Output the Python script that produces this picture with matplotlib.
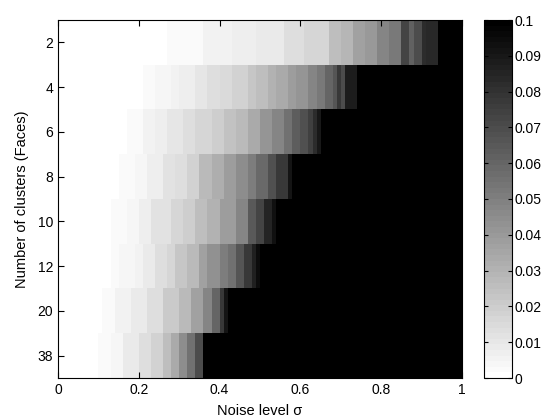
import numpy as np
import matplotlib
matplotlib.use("Agg")
import matplotlib.pyplot as plt

plt.rcParams['font.family'] = ['Liberation Sans', 'DejaVu Sans']

cluster_labels = ['2', '4', '6', '8', '10', '12', '20', '38']
xticks = [0, 0.2, 0.4, 0.6, 0.8, 1]
cbar_ticks = [0, 0.01, 0.02, 0.03, 0.04, 0.05, 0.06, 0.07, 0.08, 0.09, 0.1]

# Error per noise level (100 bins across sigma in [0,1]) for each cluster count
row_2 = ([0]*27 + [0.003]*9 + [0.005]*7 + [0.007]*6 + [0.009]*7 + [0.013]*5 +
         [0.017]*6 + [0.025]*3 + [0.029]*3 + [0.036]*3 + [0.040]*3 + [0.048]*3 +
         [0.053]*3 + [0.072]*2 + [0.062] + [0.070]*2 + [0.082] + [0.083]*3 + [0.1]*6)
row_4 = ([0]*21 + [0.002]*3 + [0.004]*4 + [0.005]*2 + [0.007]*4 + [0.010]*3 +
         [0.013]*3 + [0.015]*3 + [0.018]*4 + [0.023]*2 + [0.026]*3 + [0.030]*2 +
         [0.033]*3 + [0.038]*2 + [0.042]*3 + [0.048]*2 + [0.053]*2 + [0.060]*2 +
         [0.067] + [0.077] + [0.070] + [0.088]*3 + [0.1]*26)
row_6 = ([0]*17 + [0.003]*4 + [0.005]*3 + [0.007]*3 + [0.010]*4 + [0.013]*3 +
         [0.016]*4 + [0.020]*3 + [0.024]*3 + [0.028]*3 + [0.034]*3 + [0.042]*3 +
         [0.047]*3 + [0.055]*2 + [0.063]*2 + [0.068]*2 + [0.075] + [0.082] +
         [0.090] + [0.1]*35)
row_8 = ([0]*15 + [0.002]*4 + [0.004]*3 + [0.007]*4 + [0.011]*3 + [0.014]*3 +
         [0.018]*3 + [0.027]*3 + [0.032]*3 + [0.038]*3 + [0.045]*3 + [0.050]*2 +
         [0.058]*3 + [0.068]*2 + [0.078]*3 + [0.092] + [0.1]*42)
row_10 = ([0]*13 + [0.002]*4 + [0.004]*3 + [0.007]*3 + [0.011]*5 + [0.016]*3 +
          [0.020]*3 + [0.026]*3 + [0.031]*3 + [0.039]*4 + [0.047]*3 + [0.065]*2 +
          [0.072]*2 + [0.085]*2 + [0.093] + [0.1]*46)
row_12 = ([0]*13 + [0.002]*2 + [0.004]*4 + [0.006]*2 + [0.009]*3 + [0.013]*3 +
          [0.017]*2 + [0.022]*3 + [0.028]*3 + [0.036]*2 + [0.043]*3 + [0.050]*2 +
          [0.056]*2 + [0.067]*2 + [0.078]*2 + [0.087] + [0.094] + [0.1]*50)
row_20 = ([0]*11 + [0.002]*3 + [0.005]*4 + [0.008]*4 + [0.014]*4 + [0.021]*4 +
          [0.028]*3 + [0.037]*3 + [0.048]*2 + [0.060]*2 + [0.078] + [0.092] +
          [0.1]*58)
row_38 = ([0]*10 + [0.002]*3 + [0.004]*3 + [0.008]*4 + [0.013]*3 + [0.018]*3 +
          [0.026]*2 + [0.034]*2 + [0.045]*2 + [0.055]*2 + [0.070]*2 + [0.1]*64)

data = np.array([row_2, row_4, row_6, row_8, row_10, row_12, row_20, row_38])

fig = plt.figure(figsize=(5.6, 4.2), dpi=100)
ax = fig.add_axes([58/560, 42/420, 404/560, 358/420])
cax = fig.add_axes([484/560, 42/420, 28/560, 358/420])

cmap = plt.get_cmap('gray_r', 64)
im = ax.imshow(data, extent=[0, 1, len(cluster_labels) + 0.5, 0.5], aspect='auto',
               cmap=cmap, vmin=0, vmax=0.1, interpolation='nearest')

ax.set_xticks(xticks)
ax.set_xticklabels(['0', '0.2', '0.4', '0.6', '0.8', '1'])
ax.set_yticks(np.arange(1, len(cluster_labels) + 1))
ax.set_yticklabels(cluster_labels)
ax.tick_params(direction='in', length=4, labelsize=10, top=True, right=True)
ax.set_xlabel('Noise level σ', fontsize=10.5, labelpad=5)
ax.set_ylabel('Number of clusters (Faces)', fontsize=10.5, labelpad=6)
for s in ax.spines.values():
    s.set_linewidth(0.8)

cb = fig.colorbar(im, cax=cax, ticks=cbar_ticks)
cb.ax.set_yticklabels(['0', '0.01', '0.02', '0.03', '0.04', '0.05', '0.06', '0.07', '0.08', '0.09', '0.1'])
cb.ax.tick_params(direction='in', length=3, labelsize=10, left=True, right=True, pad=2)
cb.outline.set_linewidth(0.8)

fig.savefig('out.png', dpi=100)
